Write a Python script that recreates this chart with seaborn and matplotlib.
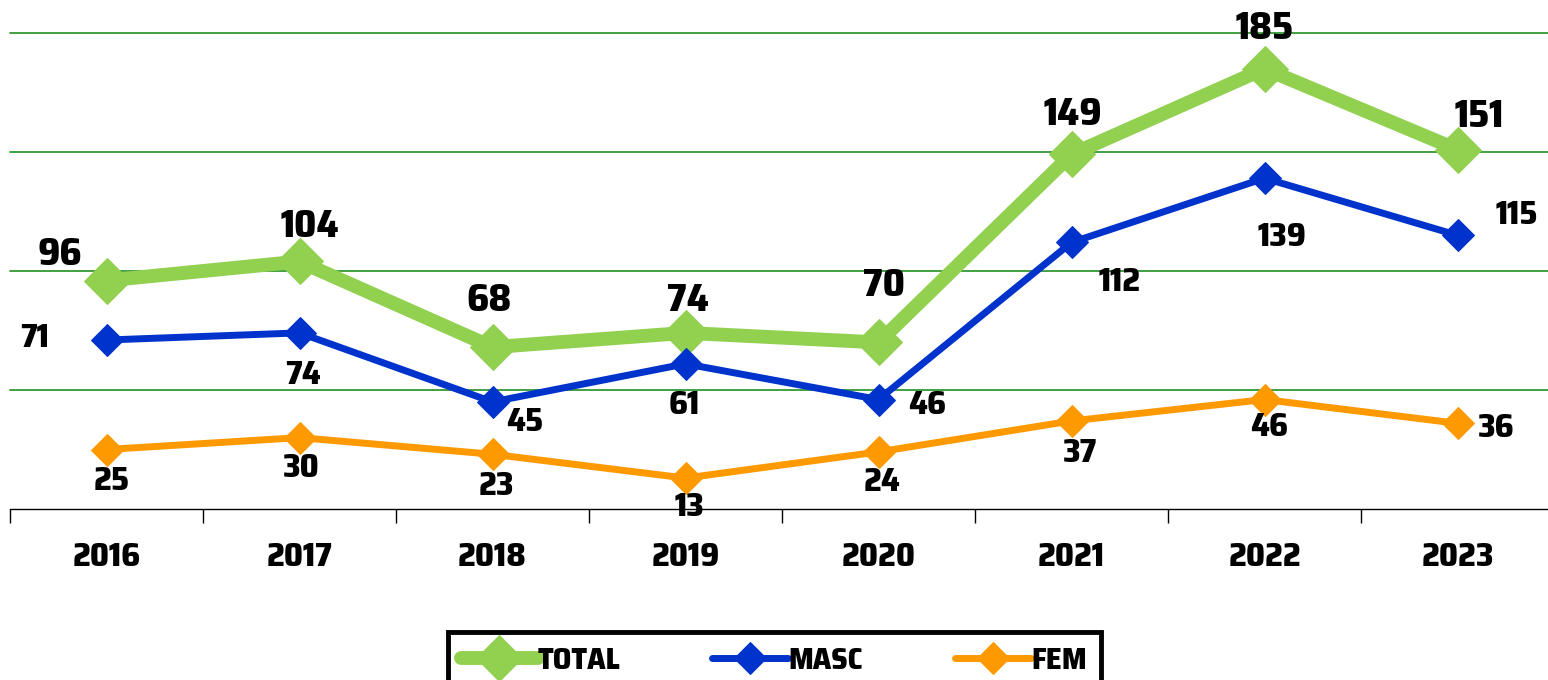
import matplotlib
matplotlib.use("Agg")
import matplotlib.pyplot as plt
import seaborn as sns
import pandas as pd
import numpy as np

years = ['2016', '2017', '2018', '2019', '2020', '2021', '2022', '2023']
total = [96, 104, 68, 74, 70, 149, 185, 151]
masc = [71, 74, 45, 61, 46, 112, 139, 115]
fem = [25, 30, 23, 13, 24, 37, 46, 36]

# label offsets in pixels (dx, dy) from each point
total_off = [(-47, 26), (10, 35), (-3, 47), (2, 32), (6, 57), (1, 40), (0, 40), (22, 33)]
masc_off = [(-72, 2), (3, -42), (32, -20), (-1, -41), (49, -5), (48, -40), (18, -59), (59, 20)]
fem_off = [(5, -32), (2, -30), (4, -32), (4, -29), (4, -30), (8, -32), (5, -27), (39, -5)]

sns.set_style("white")
plt.rcParams['font.family'] = ['Saira SemiCondensed', 'Saira Condensed', 'Roboto Condensed', 'DejaVu Sans']
plt.rcParams['font.weight'] = 800
plt.rcParams['text.color'] = 'black'
plt.rcParams['xtick.color'] = 'black'

W, H = 1548, 680
fig = plt.figure(figsize=(W / 100, H / 100), dpi=100)
ax = fig.add_axes([10 / W, (H - 509) / H, 1544 / W, (509 - 33) / H])

df = pd.DataFrame({'year': years, 'TOTAL': total, 'MASC': masc, 'FEM': fem})
x = np.arange(len(years))

series = [
    ('TOTAL', total, '#92d050', 10, 23, total_off, 28),
    ('MASC', masc, '#0033cc', 5, 16, masc_off, 24),
    ('FEM', fem, '#ff9900', 5, 16, fem_off, 24),
]

for name, vals, col, lw, ms, offs, fs in series:
    sns.lineplot(x=x, y=df[name], ax=ax, color=col, linewidth=lw, marker='D',
                 markersize=ms, markeredgecolor=col, label=name, legend=False,
                 solid_joinstyle='miter', zorder=3)
    for i, v in enumerate(vals):
        ax.annotate(str(v), (x[i], v), xytext=offs[i], textcoords='offset pixels',
                    ha='center', va='center', fontsize=fs, fontweight=800,
                    color='black', annotation_clip=False, zorder=4)

ax.set_xlim(-0.5, 7.5)
ax.set_ylim(0, 200)
ax.set_yticks([50, 100, 150, 200])
ax.yaxis.grid(True, color='#339933', linewidth=1.3)
for gl in ax.get_ygridlines():
    gl.set_clip_on(False)
ax.set_yticklabels([])
ax.tick_params(axis='y', length=0)
ax.set_xticks(x)
ax.set_xticklabels(years, fontsize=24, fontweight=800, color='black')
ax.set_xticks(np.arange(-0.5, 8, 1), minor=True)
ax.tick_params(axis='x', which='major', length=0, pad=24)
ax.tick_params(axis='x', which='minor', length=10, width=1, color='black', direction='out', bottom=True)
for s in ['left', 'right', 'top']:
    ax.spines[s].set_visible(False)
ax.spines['bottom'].set_color('black')
ax.spines['bottom'].set_linewidth(1)
ax.set_xlabel('')
ax.set_ylabel('')

handles, labels = ax.get_legend_handles_labels()
leg = fig.legend(handles, labels, loc='upper center', bbox_to_anchor=(0.5, 1 - 617 / H),
                 ncol=3, frameon=True, fancybox=False, fontsize=22, handlelength=2.5,
                 columnspacing=3.0, handletextpad=0.0, borderpad=0.45, framealpha=1)
leg.get_frame().set_edgecolor('black')
leg.get_frame().set_linewidth(3.5)
for t in leg.get_texts():
    t.set_fontweight(800)
    t.set_color('black')

fig.savefig('out.png', dpi=100)
